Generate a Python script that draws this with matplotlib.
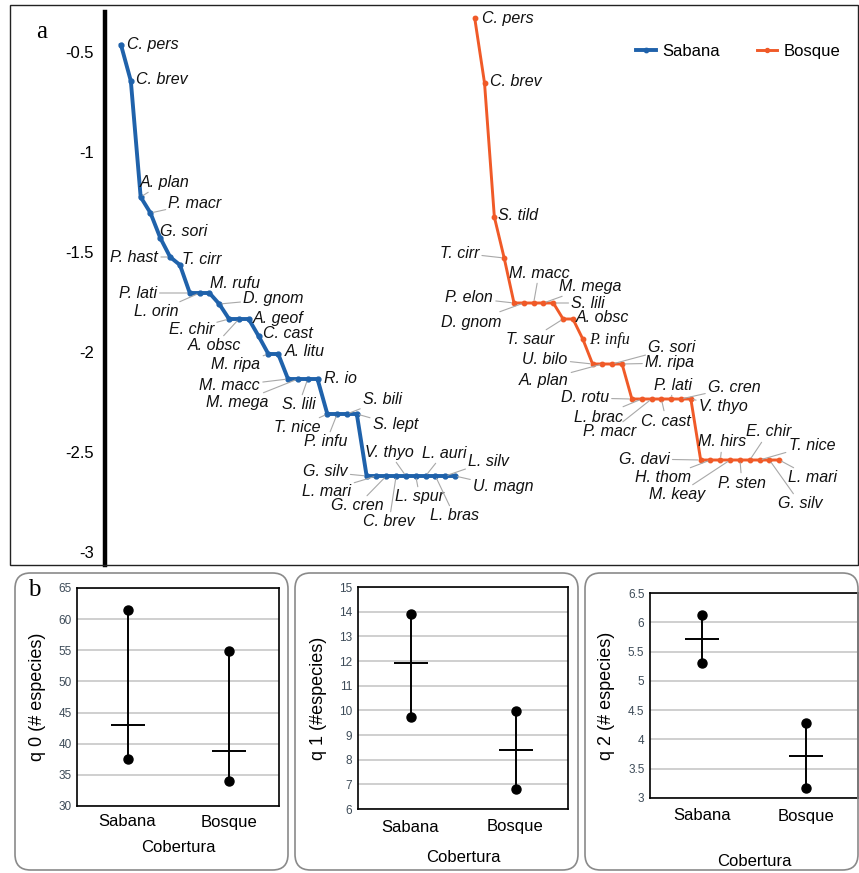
import matplotlib.pyplot as plt
from matplotlib.patches import Rectangle, FancyBboxPatch

# ---- panel a: rank / abundance curves ----
sab_sp = ['C. pers', 'C. brev', 'A. plan', 'P. macr', 'G. sori', 'P. hast', 'T. cirr',
          'P. lati', 'L. orin', 'M. rufu', 'D. gnom', 'E. chir', 'A. obsc', 'A. geof',
          'C. cast', 'M. ripa', 'A. litu', 'M. macc', 'M. mega', 'S. lili', 'R. io',
          'T. nice', 'P. infu', 'S. bili', 'S. lept', 'G. silv', 'L. mari', 'G. cren',
          'C. brev', 'V. thyo', 'L. spur', 'L. auri', 'L. bras', 'L. silv', 'U. magn']
sab_val = [-0.465, -0.645, -1.225, -1.305, -1.43, -1.525, -1.565,
           -1.705, -1.705, -1.705, -1.76, -1.835, -1.835, -1.835,
           -1.92, -2.01, -2.01, -2.135, -2.135, -2.135, -2.135,
           -2.31, -2.31, -2.31, -2.31, -2.62, -2.62, -2.62,
           -2.62, -2.62, -2.62, -2.62, -2.62, -2.62, -2.62]

bos_sp = ['C. pers', 'C. brev', 'S. tild', 'T. cirr', 'P. elon', 'D. gnom', 'M. macc',
          'M. mega', 'S. lili', 'T. saur', 'A. obsc', 'P. infu', 'U. bilo', 'A. plan',
          'G. sori', 'M. ripa', 'D. rotu', 'L. brac', 'P. macr', 'C. cast', 'P. lati',
          'G. cren', 'V. thyo', 'G. davi', 'H. thom', 'M. hirs', 'M. keay', 'P. sten',
          'E. chir', 'T. nice', 'G. silv', 'L. mari']
bos_val = [-0.33, -0.655, -1.325, -1.53, -1.755, -1.755, -1.755,
           -1.755, -1.755, -1.835, -1.835, -1.935, -2.06, -2.06,
           -2.06, -2.06, -2.235, -2.235, -2.235, -2.235, -2.235,
           -2.235, -2.235, -2.54, -2.54, -2.54, -2.54, -2.54,
           -2.54, -2.54, -2.54, -2.54]
bos_start = 36  # Bosque ranks follow Sabana on the shared category axis

# label placement (pixels from the point: dx, dy downwards, align, leader line)
sab_lab = [(6, 0, 'left', 0), (5, -1, 'left', 0), (-1, -15, 'left', 1), (18, -10, 'left', 1),
           (0, -6, 'left', 0), (-12, 0, 'right', 1), (2, -6, 'left', 0),
           (-33, 0, 'right', 1), (-21, 19, 'right', 1), (1, -10, 'left', 0), (24, -5, 'left', 1),
           (-15, 10, 'right', 1), (2, 27, 'right', 1), (4, 0, 'left', 0),
           (4, -2, 'left', 0), (-8, 11, 'right', 1), (7, -2, 'left', 0),
           (-28, 7, 'right', 1), (-29, 24, 'right', 1), (-9, 26, 'center', 1), (6, 0, 'left', 0),
           (-7, 14, 'right', 1), (-11, 28, 'center', 1), (16, -14, 'left', 1), (16, 11, 'left', 1),
           (-19, -4, 'right', 1), (-25, 15, 'right', 1), (-3, 30, 'right', 1),
           (-7, 46, 'center', 1), (-17, -24, 'center', 1), (4, 21, 'center', 1),
           (-4, -23, 'left', 1), (19, 40, 'center', 1), (23, -15, 'left', 1), (18, 11, 'left', 1)]
bos_lab = [(7, 1, 'left', 0), (5, -1, 'left', 0), (4, -1, 'left', 0), (-25, -5, 'right', 1),
           (-21, -5, 'right', 1), (-22, 19, 'right', 1), (-25, -30, 'left', 1),
           (16, -17, 'left', 1), (18, 0, 'left', 1), (-9, 21, 'right', 1), (3, -1, 'left', 0),
           (6, 1, 'left', 0), (-25, -5, 'right', 1), (-34, 16, 'right', 1),
           (36, -16, 'left', 1), (23, -1, 'left', 1), (-23, -1, 'right', 1), (-19, 18, 'right', 1),
           (-15, 33, 'right', 1), (-20, 22, 'left', 1), (-17, -14, 'left', 1),
           (27, -12, 'left', 1), (8, 7, 'left', 1), (-31, -1, 'right', 1), (-19, 18, 'right', 1),
           (-22, -18, 'left', 1), (-25, 35, 'right', 1), (-22, 23, 'left', 1),
           (-4, -28, 'left', 1), (29, -15, 'left', 1), (9, 44, 'left', 1), (9, 18, 'left', 1)]

# ---- panel b: diversity orders ----
groups = ['Sabana', 'Bosque']
q0_low, q0_mean, q0_high = [37.5, 34.0], [43.0, 38.8], [61.5, 54.9]
q1_low, q1_mean, q1_high = [9.75, 6.82], [11.92, 8.4], [13.9, 9.98]
q2_low, q2_mean, q2_high = [5.31, 3.17], [5.71, 3.72], [6.12, 4.28]

W, H = 859, 873
fig = plt.figure(figsize=(W / 100, H / 100), dpi=100)
plt.rcParams['font.family'] = ['Liberation Sans', 'DejaVu Sans']

def fx(px):
    return px / W

def fy(py):
    return 1 - py / H

blue = '#1f62ab'
orange = '#f05a28'

ax = fig.add_axes([fx(105), fy(565), fx(850) - fx(105), fy(12) - fy(565)])
sab_x = list(range(len(sab_val)))
bos_x = [bos_start + i for i in range(len(bos_val))]
ax.plot(sab_x, sab_val, '-o', color=blue, lw=2.8, ms=3.5, label='Sabana')
ax.plot(bos_x, bos_val, '-o', color=orange, lw=2.1, ms=3.2, label='Bosque')
ax.set_xlim(-1.63, 74.2)
ax.set_ylim(-3.065, -0.30)
ax.set_yticks([-3, -2.5, -2, -1.5, -1, -0.5])
ax.set_yticklabels(['-3', '-2.5', '-2', '-1.5', '-1', '-0.5'])
ax.tick_params(axis='y', length=0, pad=8, labelsize=12)
ax.set_xticks([])
for s in ['top', 'right', 'bottom']:
    ax.spines[s].set_visible(False)
ax.spines['left'].set_linewidth(3.2)
ax.patch.set_alpha(0)

def put_labels(xs, vals, names, specs, color):
    for x, v, name, (dx, dy, ha, lead) in zip(xs, vals, names, specs):
        kw = dict(xy=(x, v), xytext=(dx, -dy), textcoords='offset pixels',
                  ha=ha, va='center', fontsize=11.5, style='italic', color='#111111')
        if name == 'P. infu' and color == orange:
            kw['family'] = ['Liberation Serif', 'DejaVu Serif']
        if lead:
            kw['arrowprops'] = dict(arrowstyle='-', color='#a8a8a8', lw=0.8,
                                    shrinkA=0, shrinkB=2)
        ax.annotate(name, **kw)

put_labels(sab_x, sab_val, sab_sp, sab_lab, blue)
put_labels(bos_x, bos_val, bos_sp, bos_lab, orange)

ax.legend(loc='center', bbox_to_anchor=(0.85, 0.928), ncol=2, frameon=False,
          fontsize=12, handlelength=1.2, columnspacing=2.2, handletextpad=0.4,
          markerscale=0.9)

fig.patches.append(Rectangle((fx(10), fy(565)), fx(858) - fx(10), fy(5) - fy(565),
                             transform=fig.transFigure, fill=False, ec='#222222', lw=1.0))
fig.text(fx(36), fy(32), 'a', family=['Liberation Serif', 'DejaVu Serif'], fontsize=18,
         va='center')
fig.text(fx(28), fy(590), 'b', family=['Liberation Serif', 'DejaVu Serif'], fontsize=18,
         va='center')

# boxes of panel b
for x0, x1 in [(15, 288), (295, 578), (585, 858)]:
    fig.patches.append(FancyBboxPatch((fx(x0), fy(870)), fx(x1) - fx(x0), fy(573) - fy(870),
                                      boxstyle='round,pad=0,rounding_size=0.018',
                                      transform=fig.transFigure, fill=False,
                                      ec='#8a8a8a', lw=1.2))

subplots = [
    ((77, 279, 588, 806), (30, 65), range(30, 66, 5), q0_low, q0_mean, q0_high,
     'q 0 (# especies)', 822, 847, None),
    ((358, 568, 587, 809), (6, 15), range(6, 16), q1_low, q1_mean, q1_high,
     'q 1 (#especies)', 827, 858, None),
    ((650, 858, 593, 798), (3, 6.5), [3, 3.5, 4, 4.5, 5, 5.5, 6, 6.5], q2_low, q2_mean, q2_high,
     'q 2 (# especies)', 816, 861, ['3', '3.5', '4', '4.5', '5', '5.5', '6', '6.5']),
]
for (l, r, t, b), ylim, ticks, lo, me, hi, ylab, xty, cty, tl in subplots:
    bx = fig.add_axes([fx(l), fy(b), fx(r) - fx(l), fy(t) - fy(b)])
    xs = [0, 1]
    for i in xs:
        bx.plot([i, i], [lo[i], hi[i]], color='black', lw=1.4, zorder=3)
    bx.plot(xs, lo, 'o', color='black', ms=6.5, zorder=4)
    bx.plot(xs, hi, 'o', color='black', ms=6.5, zorder=4)
    bx.plot(xs, me, '_', color='black', ms=24, mew=1.4, zorder=4)
    bx.set_xlim(-0.5, 1.5)
    bx.set_ylim(*ylim)
    bx.set_yticks(list(ticks))
    if tl:
        bx.set_yticklabels(tl)
    bx.yaxis.grid(True, color='#cccccc', lw=1.3)
    bx.set_axisbelow(True)
    bx.tick_params(axis='y', length=0, labelsize=8.5, labelcolor='#3d4b58', pad=4)
    bx.set_xticks([])
    for s in bx.spines.values():
        s.set_linewidth(1.2)
    bx.set_ylabel(ylab, fontsize=13, labelpad=9)
    for i, g in enumerate(groups):
        bx.text(i, 0, g, transform=bx.get_xaxis_transform(), fontsize=12,
                ha='center', va='center')
    # x tick labels and axis title positioned in figure pixels
    for t_ in bx.texts:
        t_.set_transform(fig.transFigure)
    bx.texts[0].set_position((fx(l + (r - l) * 0.25), fy(xty)))
    bx.texts[1].set_position((fx(l + (r - l) * 0.75), fy(xty)))
    fig.text(fx((l + r) / 2), fy(cty), 'Cobertura', fontsize=12, ha='center', va='center')

fig.savefig('out.png', dpi=100)
